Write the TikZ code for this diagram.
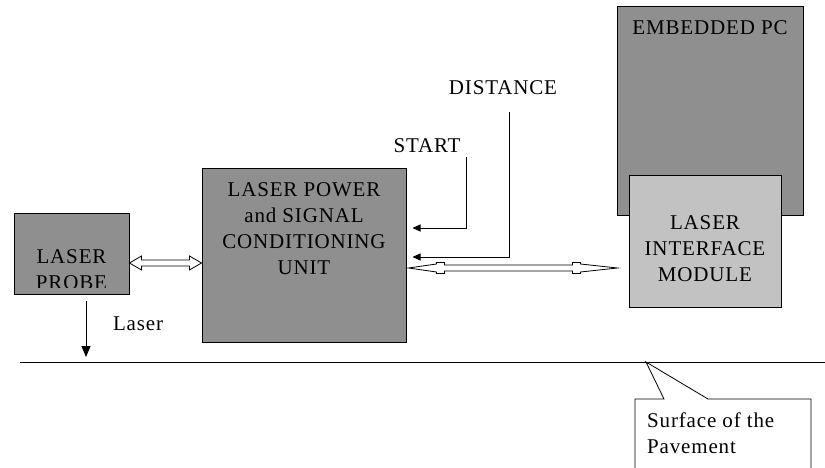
\documentclass[tikz,border=0pt]{standalone}
\usepackage{fontspec}
\setmainfont{Liberation Serif}[LetterSpace=4]
\usetikzlibrary{arrows.meta}
\definecolor{darkbox}{RGB}{143,143,143}
\definecolor{lightbox}{RGB}{194,194,194}
\begin{document}
\begin{tikzpicture}[x=1pt,y=-1pt,
  every node/.style={font=\fontsize{21}{26}\selectfont, inner sep=0pt},
  boxd/.style={draw=black, line width=1pt, fill=darkbox},
  boxl/.style={draw=black, line width=1pt, fill=lightbox},
  lbl/.style={align=center},
  sig/.style={draw=black, line width=0.9pt, -{Triangle[length=8pt,width=7pt]}},
  hollow/.style={draw=black, line width=0.8pt, fill=white},
  callout/.style={draw=black, line width=0.8pt, fill=white}]
\useasboundingbox (0,0) rectangle (825,468);

% ground line
\coordinate (g1) at (20,362);
\coordinate (g2) at (825,362);
\draw[line width=1pt] (g1) -- (g2);

% boxes
\node[boxd, minimum width=115pt, minimum height=81pt] (probe) at (71.5,253.5) {};
\begin{scope}
  \clip (probe.north west) rectangle ([yshift=7pt]probe.south east);
  \node[lbl, anchor=base] (probetxt) at (71.5,289) {LASER\\PROBE};
\end{scope}

\node[boxd, minimum width=204pt, minimum height=173pt] (unit) at (304,255.5) {};
\node[lbl] (unittxt) at (304,229) {LASER POWER\\and SIGNAL\\CONDITIONING\\UNIT};

\node[boxd, minimum width=186pt, minimum height=208pt] (pc) at (710,111) {};
\node[lbl] (pctxt) at (710,28) {EMBEDDED PC};

\node[boxl, minimum width=152pt, minimum height=131pt] (mod) at (705,241.5) {};
\node[lbl] (modtxt) at (705,249) {LASER\\INTERFACE\\MODULE};

% probe <-> unit hollow double arrow
\draw[hollow] (probe.east |- 0,263) -- ++(12,-7) -- ++(0,4) -- ([xshift=-12pt]unit.west |- 0,260)
  -- ++(0,-4) -- (unit.west |- 0,263) -- ++(-12,7) -- ++(0,-4) -- ([xshift=12pt]probe.east |- 0,266)
  -- ++(0,4) -- cycle;

% unit <-> module long hollow arrow
\coordinate (la) at ([xshift=2pt]unit.east |- 0,268);
\coordinate (ra) at ([xshift=-11pt]mod.west |- 0,268);
\draw[hollow] (la) -- ++(28,-4) -- ++(0,-1.5) -- ++(8,0) -- ++(0,2.5) -- ([xshift=-45pt]ra |- 0,265)
  -- ++(0,-2.5) -- ++(8,0) -- ++(0,1.5) -- (ra) -- ++(-37,4) -- ++(0,1.5) -- ++(-8,0) -- ++(0,-2.5)
  -- ([xshift=36pt]la |- 0,271) -- ++(0,2.5) -- ++(-8,0) -- ++(0,-1.5) -- cycle;

% START and DISTANCE signals
\node (start) at (427,146) {START};
\node (dist) at (503,88) {DISTANCE};
\coordinate (s1) at (466,157);
\coordinate (d1) at (509,112);
\draw[sig] (s1) -- (466,228) -- ([xshift=6pt]unit.east |- 0,228);
\draw[sig] (d1) -- (509,257) -- ([xshift=6pt]unit.east |- 0,257);

% laser beam
\draw[line width=0.9pt, -{Triangle[length=11pt,width=9pt]}] (probe.south -| 86,0) ++(0,6) -- (86,357);
\node (laser) at (138,324) {Laser};

% callout
\draw[callout] (635,470) -- (635,399) -- (664,399) -- (646,362) -- (708,399) -- (811,399) -- (811,470);
\node[align=left, anchor=west] (surf) at (647,433) {Surface of the\\Pavement};
\end{tikzpicture}
\end{document}
